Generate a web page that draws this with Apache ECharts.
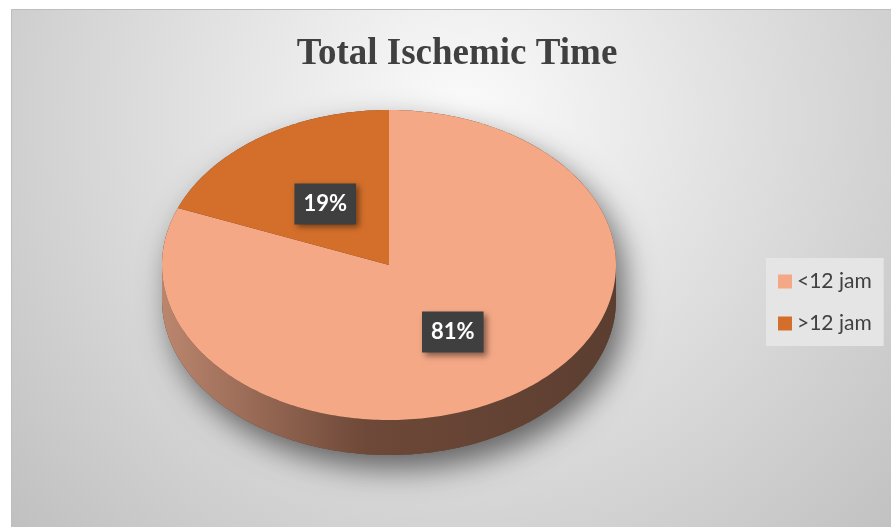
<!DOCTYPE html>
<html>
<head>
<meta charset="utf-8">
<script src="https://cdn.jsdelivr.net/npm/echarts@6/dist/echarts.min.js"></script>
<style>
  html, body { margin: 0; padding: 0; background: #ffffff; }
  #chart { width: 891px; height: 527px; }
</style>
</head>
<body>
<div id="chart"></div>
<script>
// ---- data ----
const titleText = 'Total Ischemic Time';
const categories = ['<12 jam', '>12 jam'];
const values = [81, 19];
const sliceColors = ['#F4A886', '#D46F2B'];

// ---- layout / style (not data) ----
const PIE = { cx: 389, cy: 265, rx: 227, ry: 155, depth: 35 };
const total = values.reduce((a, b) => a + b, 0);

function ell(theta, dy) {
  const r = theta * Math.PI / 180;
  return [PIE.cx + PIE.rx * Math.sin(r), PIE.cy - PIE.ry * Math.cos(r) + dy];
}
function arcPts(a, b, dy) {
  const pts = [];
  const n = Math.max(2, Math.ceil(Math.abs(b - a)));
  for (let i = 0; i <= n; i++) pts.push(ell(a + (b - a) * i / n, dy));
  return pts;
}

function makeRender(idx) {
  return function (params, api) {
    const v = api.value(0);
    let before = 0;
    for (let k = 0; k < idx; k++) before += values[k];
    const start = before / total * 360;
    const end = start + v / total * 360;
    const children = [];
    if (idx === 0) {
      children.push({
        type: 'polygon', z2: 0, silent: true,
        shape: { points: arcPts(-90, 90, 0).concat(arcPts(90, 270, PIE.depth)) },
        style: { fill: '#5c3f31', shadowBlur: 30, shadowColor: 'rgba(0,0,0,0.55)', shadowOffsetX: 8, shadowOffsetY: 14 }
      });
    }
    const a = Math.max(start, 90), b = Math.min(end, 270);
    if (a < b) {
      children.push({
        type: 'polygon', z2: 1,
        shape: { points: arcPts(a, b, 0).concat(arcPts(b, a, PIE.depth)) },
        style: {
          fill: {
            type: 'linear', global: true,
            x: PIE.cx - PIE.rx, y: 0, x2: PIE.cx + PIE.rx, y2: 0,
            colorStops: [
              { offset: 0, color: '#bb866e' },
              { offset: 0.45, color: '#6e4838' },
              { offset: 1, color: '#5b3e30' }
            ]
          }
        }
      });
    }
    children.push({
      type: 'polygon', z2: 2,
      shape: { points: [[PIE.cx, PIE.cy]].concat(arcPts(start, end, 0)) },
      style: { fill: sliceColors[idx] }
    });
    const mid = (start + end) / 2 * Math.PI / 180;
    const lx = PIE.cx + PIE.rx * 0.5 * Math.sin(mid);
    const ly = PIE.cy - PIE.ry * 0.5 * Math.cos(mid) + 3;
    children.push({
      type: 'text', z2: 3, x: lx, y: ly,
      style: {
        text: Math.round(v / total * 100) + '%',
        fill: '#ffffff',
        font: 'bold 22px Lato, "Open Sans", sans-serif',
        align: 'center', verticalAlign: 'middle',
        backgroundColor: '#3f3f3f',
        padding: [9, 9, 9, 9],
        lineHeight: 23,
        shadowBlur: 6, shadowColor: 'rgba(0,0,0,0.45)', shadowOffsetX: 3, shadowOffsetY: 3
      }
    });
    return { type: 'group', children: children };
  };
}

const chart = echarts.init(document.getElementById('chart'), null, { renderer: 'canvas' });
chart.setOption({
  animation: false,
  backgroundColor: '#ffffff',
  graphic: [{
    type: 'rect', silent: true, z: -10,
    shape: { x: 11.5, y: 9.5, width: 900, height: 530 },
    style: {
      fill: {
        type: 'radial', x: 0.5, y: 0.2, r: 1.15,
        colorStops: [
          { offset: 0, color: '#fbfbfb' },
          { offset: 0.42, color: '#e2e2e2' },
          { offset: 1, color: '#c0c0c0' }
        ]
      },
      stroke: '#bdbdbd', lineWidth: 1
    }
  }],
  title: {
    text: titleText,
    left: 457, top: 36, padding: 0, textAlign: 'center',
    textStyle: { fontFamily: '"Liberation Serif", "Times New Roman", serif', fontWeight: 'bold', fontSize: 37, color: '#404040' }
  },
  legend: {
    data: categories,
    orient: 'vertical',
    left: 766, top: 258,
    backgroundColor: '#e5e5e5',
    padding: [13, 12, 12, 12],
    itemWidth: 14, itemHeight: 14, itemGap: 21,
    icon: 'rect',
    textStyle: { fontFamily: 'Lato, "Open Sans", sans-serif', fontSize: 21, color: '#404040' }
  },
  series: categories.map((name, i) => ({
    type: 'custom',
    name: name,
    coordinateSystem: 'none',
    itemStyle: { color: sliceColors[i] },
    data: [[values[i]]],
    renderItem: makeRender(i)
  }))
});
</script>
</body>
</html>
